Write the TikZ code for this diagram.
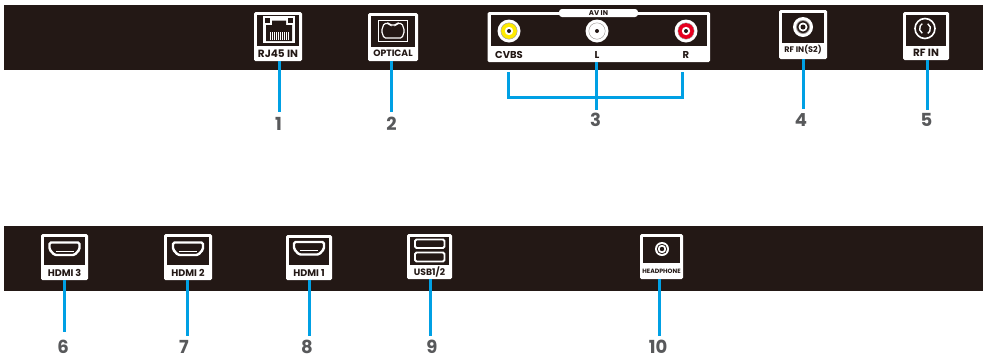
\documentclass[tikz,border=0pt]{standalone}
\usepackage{fontspec}
\setmainfont{Poppins}
\definecolor{barblack}{HTML}{231815}
\definecolor{leadblue}{HTML}{00A0E4}
\definecolor{numgrey}{HTML}{58595B}
\definecolor{jackyellow}{HTML}{FFEB00}
\definecolor{jackred}{HTML}{E60020}
\tikzset{
  bar/.style={fill=barblack,draw=none},
  portbox/.style={fill=white,draw=none,rounded corners=1.5pt,inner sep=0pt},
  portwell/.style={fill=barblack,draw=none,inner sep=0pt},
  portlabel/.style={font=\bfseries\fontsize{8}{8}\selectfont,text=barblack,inner sep=0pt},
  lead/.style={draw=leadblue,line width=3pt},
  number/.style={font=\bfseries\fontsize{18}{18}\selectfont,text=numgrey,inner sep=0pt,anchor=base},
  icon/.style={draw=white,line width=1.2pt,fill=none}
}
% name, x0, y0, x1, y1, well bottom, label y, label, extra label style
\newcommand{\portpanel}[9]{%
  \pgfmathsetmacro{\pcx}{(#2+#4)/2}\pgfmathsetmacro{\pcy}{(#3+#5)/2}%
  \pgfmathsetmacro{\pw}{#4-#2}\pgfmathsetmacro{\ph}{#5-#3}%
  \pgfmathsetmacro{\wy}{(#3+3+#6)/2}\pgfmathsetmacro{\ww}{#4-#2-6}\pgfmathsetmacro{\wh}{#6-#3-3}%
  \node[portbox,minimum width=\pw pt,minimum height=\ph pt] (#1) at (\pcx,\pcy) {};
  \node[portwell,minimum width=\ww pt,minimum height=\wh pt] (#1w) at (\pcx,\wy) {};
  \node[portlabel,#9] (#1t) at (\pcx,#7) {#8};
}
\newcommand{\hdmiicon}[2]{%
  \begin{scope}[shift={(#1,#2)}]
    \draw[icon,line width=2.4pt,rounded corners=1.5pt] (-15,-6) -- (15,-6) -- (15,1) -- (10,6.5) -- (-10,6.5) -- (-15,1) -- cycle;
    \draw[white,line width=.9pt] (-9,2.5) -- (9,2.5);
  \end{scope}}
\begin{document}
\begin{tikzpicture}[x=1pt,y=-1pt]
\useasboundingbox (0,0) rectangle (986,360);
\fill[white] (0,0) rectangle (986,360);
\node[bar,inner sep=0pt,minimum width=979pt,minimum height=65pt] (topbar) at (493.5,37.5) {};
\node[bar,inner sep=0pt,minimum width=979pt,minimum height=65pt] (botbar) at (493.5,258.5) {};

% top row panels
\portpanel{rj}{254}{12}{302}{61}{46}{53.5}{RJ45 IN}{font=\bfseries\fontsize{10.5}{10.5}\selectfont}
\portpanel{opt}{368}{13}{418}{61}{47}{53.5}{OPTICAL}{font=\bfseries\fontsize{9.2}{9.2}\selectfont}
\portpanel{av}{487.5}{12}{710}{62}{46}{54}{}{}
\portpanel{rfs}{779}{10}{827}{59}{43}{50}{RF IN(S2)}{font=\bfseries\fontsize{8.1}{8.1}\selectfont}
\portpanel{rf}{903}{12}{949}{60}{46}{52.5}{RF IN}{font=\bfseries\fontsize{10.5}{10.5}\selectfont}

% bottom row panels
\portpanel{hc}{41}{234}{88}{280}{265}{272.5}{HDMI 3}{font=\bfseries\fontsize{9.6}{9.6}\selectfont}
\portpanel{hb}{164}{234}{212}{280}{265}{272.5}{HDMI 2}{font=\bfseries\fontsize{9.6}{9.6}\selectfont}
\portpanel{ha}{286}{235}{332}{280}{265}{272.5}{HDMI 1}{font=\bfseries\fontsize{9.6}{9.6}\selectfont}
\portpanel{usb}{407}{234}{452}{279}{265}{272}{USB1/2}{font=\bfseries\fontsize{9.2}{9.2}\selectfont}
\portpanel{hp}{640}{234}{683}{279}{263}{271}{HEADPHONE}{font=\bfseries\fontsize{6.2}{6.2}\selectfont}

% AV tab and labels
\node[portbox,rounded corners=3pt,minimum width=79pt,minimum height=8pt] (avtab) at (598.5,13) {};
\node[portlabel,font=\bfseries\fontsize{7}{7}\selectfont] (avtabt) at (598.5,13) {AV IN};
\node[portlabel,font=\bfseries\fontsize{10}{10}\selectfont] (cvbs) at (509,54.5) {CVBS};
\node[portlabel,font=\bfseries\fontsize{10}{10}\selectfont] (lab l) at (597,54.5) {L};
\node[portlabel,font=\bfseries\fontsize{10}{10}\selectfont] (lab r) at (686,54.5) {R};

% RCA jacks
\foreach \jx/\jc in {509/jackyellow,597/white,686/jackred}{
  \fill[white] (\jx,31) circle (11.5);
  \fill[\jc] (\jx,31) circle (8);
  \draw[barblack!55,line width=.3pt] (\jx,31) circle (8.2);
  \fill[white] (\jx,31) circle (4.2);
  \fill[barblack] (\jx,31) circle (2);
}

% RJ45 icon
\fill[white] (263,16) rectangle (295,43);
\fill[barblack] (265,18) rectangle (270,22.5);
\fill[barblack] (288,18) rectangle (293,22.5);
\fill[barblack] (266,41) -- (266,25) -- (272,25) -- (272,20.5) -- (286,20.5) -- (286,25) -- (292,25) -- (292,41) -- cycle;
\foreach \k in {0,...,9}{\fill[white] ({269.6+\k*2},31.5) rectangle ({270.6+\k*2},40);}

% optical icon
\draw[white,line width=1pt] (378.5,20.5) rectangle (407.5,41);
\draw[icon,rounded corners=1.5pt] (384,23.5) -- (389,23.5) -- (390,25) -- (396,25) -- (397,23.5) -- (402,23.5) -- (404.5,31) -- (402,38) -- (384,38) -- (381.5,31) -- cycle;

% RF icons
\fill[white] (803,27) circle (10);
\fill[barblack!45] (803,27) circle (7);
\fill[barblack] (803,27) circle (6);
\fill[white] (803,27) circle (4.5);
\fill[barblack] (803,27) circle (2.5);
\draw[icon,line width=1.6pt] (925,28.5) circle (10);
\draw[icon,line width=1.4pt] (925,28.5) ++(120:5.5) arc[start angle=120,end angle=240,radius=5.5];
\draw[icon,line width=1.4pt] (925,28.5) ++(-60:5.5) arc[start angle=-60,end angle=60,radius=5.5];

% HDMI icons
\hdmiicon{64.5}{248.5}
\hdmiicon{188}{248.5}
\hdmiicon{309}{248}

% USB icon
\draw[icon,rounded corners=1.5pt,line width=1.8pt] (415,239.5) rectangle (444.5,248);
\draw[icon,rounded corners=1.5pt,line width=1.8pt] (415,252.5) rectangle (444.5,261.5);

% headphone icon
\fill[white] (662,249) circle (7);
\fill[barblack] (662,249) circle (5.2);
\fill[white] (662,249) circle (4.2);
\fill[barblack] (662,249) circle (2.2);

% number labels
\node[number] (n1) at (278.5,130) {1};
\node[number] (n2) at (391.5,130) {2};
\node[number] (n3) at (595.5,126) {3};
\node[number] (n4) at (801,126) {4};
\node[number] (n5) at (926.5,126) {5};
\node[number] (n6) at (63,353.8) {6};
\node[number] (n7) at (184,353.8) {7};
\node[number] (n8) at (307,353.8) {8};
\node[number] (n9) at (432,353.8) {9};
\node[number] (n10) at (658,353.8) {10};

% lead ends
\coordinate (e1) at (279.5,112);
\coordinate (e2) at (391.5,112);
\coordinate (e3) at (596,110);
\coordinate (e4) at (803,109);
\coordinate (e5) at (927,110);
\coordinate (e6) at (64,332);
\coordinate (e7) at (187,336);
\coordinate (e8) at (309,336);
\coordinate (e9) at (430,336);
\coordinate (e10) at (659,336);
\coordinate (brl) at (508,72);
\coordinate (brr) at (682,72);
\coordinate (brm) at (596,97);

\draw[lead] (rj.south -| e1) -- (e1);
\draw[lead] (opt.south -| e2) -- (e2);
\draw[lead] (av.south -| e3) -- (e3);
\draw[lead] (rfs.south -| e4) -- (e4);
\draw[lead] (rf.south -| e5) -- (e5);
\draw[lead] (hc.south -| e6) -- (e6);
\draw[lead] (hb.south -| e7) -- (e7);
\draw[lead] (ha.south -| e8) -- (e8);
\draw[lead] (usb.south -| e9) -- (e9);
\draw[lead] (hp.south -| e10) -- (e10);
\draw[lead] (brl) |- (brm) -| (brr);
\end{tikzpicture}
\end{document}
